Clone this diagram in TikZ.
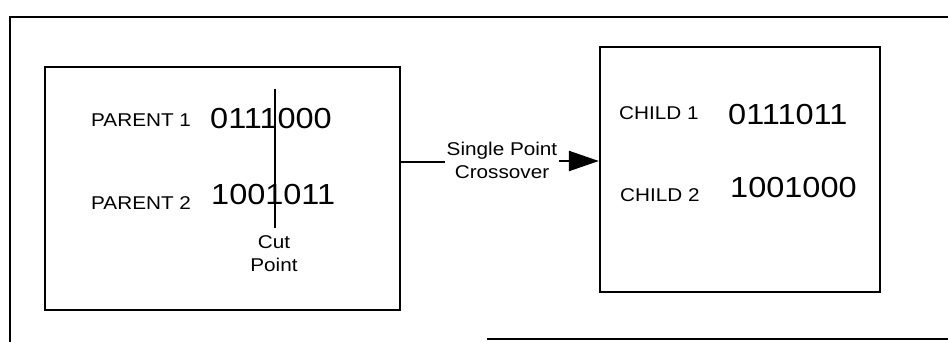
\documentclass[tikz,border=0pt]{standalone}
\usepackage{fontspec}
\setmainfont{Liberation Sans}
\newfontfamily\wf[FakeStretch=1.12]{Liberation Sans}
\usetikzlibrary{arrows.meta}
\begin{document}
\begin{tikzpicture}[x=1pt,y=-1pt,
  frame/.style={line width=2.3pt},
  pbox/.style={draw,line width=2.3pt,inner sep=0pt},
  lab/.style={inner sep=0pt,font=\wf\fontsize{18.5}{20}\selectfont},
  bits/.style={inner sep=0pt,font=\wf\fontsize{29}{30}\selectfont},
  small/.style={inner sep=0pt,align=center,font=\wf\fontsize{18.5}{23}\selectfont}]
\useasboundingbox (0,0) rectangle (948,342);
% outer frame (partial)
\draw[frame] (10,342) -- (10,17) -- (948,17);
\draw[frame] (487,339) -- (948,339);
% boxes
\node[pbox,minimum width=355pt,minimum height=243pt] (P) at (222.5,188.5) {};
\node[pbox,minimum width=280pt,minimum height=245pt] (C) at (740,169.5) {};
% parent texts
\node[lab,anchor=west] (p1) at (91,120) {PARENT 1};
\node[bits,anchor=west] (b1) at (210,119) {0111000};
\node[lab,anchor=west] (p2) at (91,203) {PARENT 2};
\node[bits,anchor=west] (b2) at (211,195) {1001011};
% cut line
\coordinate (ct) at (275,89);
\coordinate (cb) at (275,228);
\draw[line width=1.3pt] (ct) -- (cb);
\node[small] (cut) at (274,254) {Cut\\Point};
% child texts
\node[lab,anchor=west] (c1) at (619,113) {CHILD 1};
\node[bits,anchor=west] (d1) at (728,115) {0111011};
\node[lab,anchor=west] (c2) at (620,195) {CHILD 2};
\node[bits,anchor=west] (d2) at (730,188) {1001000};
% arrow
\node[small,fill=white,inner sep=2pt] (sp) at (502,160) {Single Point\\Crossover};
\draw[line width=2.3pt] (P.east |- 0,162) -- (sp.west |- 0,162);
\draw[line width=2.3pt,-{Triangle[length=30pt,width=20pt]}] (sp.east |- 0,161) -- (C.west |- 0,161);
\end{tikzpicture}
\end{document}
